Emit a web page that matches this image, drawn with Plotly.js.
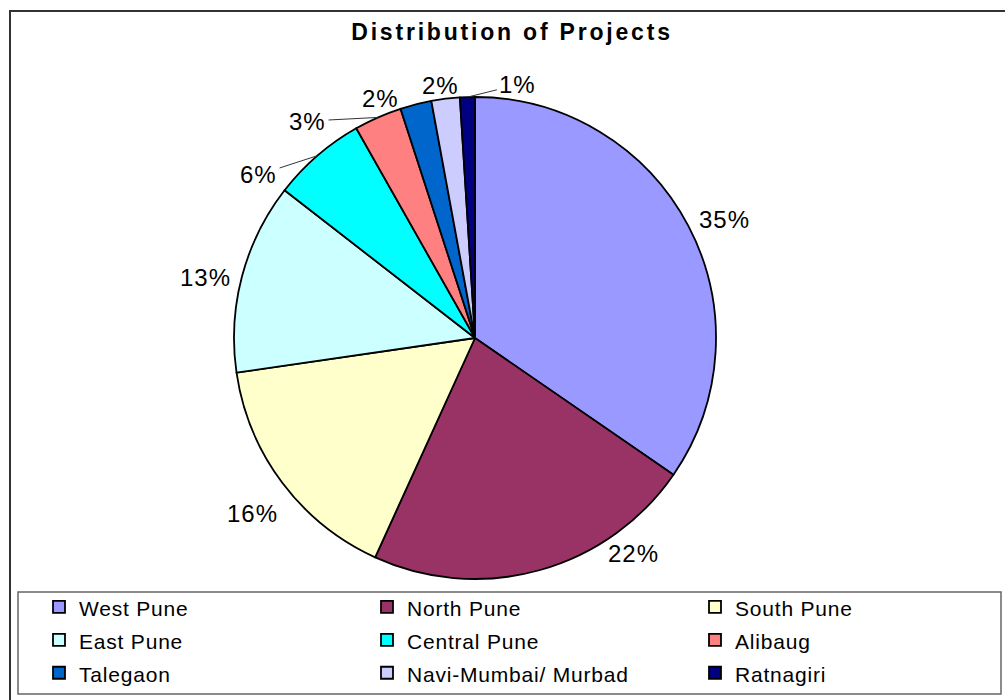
<!DOCTYPE html>
<html>
<head>
<meta charset="utf-8">
<script src="https://cdn.plot.ly/plotly-3.0.1.min.js"></script>
<style>
html,body{margin:0;padding:0;background:#fff;overflow:hidden;}
.legendtext{font-size:21px !important;letter-spacing:0.8px;}
.gtitle{letter-spacing:2.8px;}
.annotation-text{letter-spacing:1px;}
</style>
</head>
<body>
<div id="chart" style="width:1040px;height:700px;"></div>
<script>
// ---- data ----
const categories = ["West Pune", "North Pune", "South Pune", "East Pune", "Central Pune", "Alibaug", "Talegaon", "Navi-Mumbai/ Murbad", "Ratnagiri"];
const shares = [34.6, 22.2, 15.9, 12.8, 6.3, 3.2, 2.1, 1.9, 1.0];
const sliceColors = ["#9999FF", "#993366", "#FFFFCC", "#CCFFFF", "#00FFFF", "#FF8080", "#0066CC", "#CCCCFF", "#000080"];
const chartTitle = "Distribution of Projects";

// ---- label placement (layout only) ----
const labelAngleShift = [2.2, -20.9, -1.4, -2.2, -12.1, -13.9, -7.3, -0.7, 11.4]; // degrees from slice mid-angle
const labelRadiusExtra = [35, 27, 42, 35, 30, 33, 16, 14, 16];                  // px beyond the pie edge
const hasLeader = [false, false, false, false, true, true, false, false, true];

// layout canvas is a bit wider than the 1005px window so the outer frame runs off the right edge
const W = 1040, H = 700;
const cx = 475, cy = 338, r = 241;
const font = "Liberation Sans, Arial, Helvetica, sans-serif";

const total = shares.reduce((a, b) => a + b, 0);
const annotations = [];
let cum = 0;
shares.forEach((v, i) => {
  const mid = (cum + v / 2) / total * 360;
  cum += v;
  const rad = mid * Math.PI / 180;
  const ex = cx + r * Math.sin(rad), ey = cy - r * Math.cos(rad);
  const la = (mid + labelAngleShift[i]) * Math.PI / 180;
  const d = r + labelRadiusExtra[i];
  const lx = cx + d * Math.sin(la), ly = cy - d * Math.cos(la);
  annotations.push({
    xref: "paper", yref: "paper",
    x: ex / W, y: 1 - ey / H,
    ax: lx - ex, ay: ly - ey,
    text: Math.round(v / total * 100) + "%",
    showarrow: true, arrowhead: 0, arrowwidth: 1,
    arrowcolor: hasLeader[i] ? "#333" : "rgba(0,0,0,0)",
    standoff: 0, startstandoff: 1,
    font: { family: font, size: 24, color: "#000" },
    xanchor: "center", yanchor: "middle"
  });
});

const trace = {
  type: "pie",
  labels: categories,
  values: shares,
  sort: false,
  direction: "clockwise",
  rotation: 0,
  marker: { colors: sliceColors, line: { color: "#000", width: 1.8 } },
  textinfo: "none",
  domain: { x: [(cx - r) / W, (cx + r) / W], y: [(H - cy - r) / H, (H - cy + r) / H] },
  automargin: false,
  hoverinfo: "none"
};

const layout = {
  width: W, height: H,
  margin: { l: 0, r: 0, t: 0, b: 0, autoexpand: false },
  paper_bgcolor: "#fff",
  title: {
    text: chartTitle,
    x: 512 / W, xanchor: "center",
    y: 1 - 32 / H, yanchor: "middle",
    font: { family: font, size: 23, color: "#000", weight: "bold" }
  },
  showlegend: true,
  legend: {
    orientation: "h",
    x: 39 / W, xanchor: "left",
    y: (H - 585.5) / H, yanchor: "top",
    entrywidth: 283, entrywidthmode: "pixels",
    font: { family: font, size: 23, color: "#000" },
    bgcolor: "rgba(0,0,0,0)",
    borderwidth: 0,
    traceorder: "normal"
  },
  annotations: annotations,
  shapes: [
    { type: "rect", xref: "paper", yref: "paper", x0: 10 / W, x1: 1.02, y0: -0.02, y1: (H - 11) / H,
      line: { color: "#333", width: 2 }, fillcolor: "rgba(0,0,0,0)" },
    { type: "rect", xref: "paper", yref: "paper", x0: 18 / W, x1: 1001 / W, y0: (H - 694) / H, y1: (H - 592) / H,
      line: { color: "#666", width: 1.5 }, fillcolor: "rgba(0,0,0,0)" }
  ]
};

Plotly.newPlot("chart", [trace], layout, { staticPlot: true, displayModeBar: false });
</script>
</body>
</html>
